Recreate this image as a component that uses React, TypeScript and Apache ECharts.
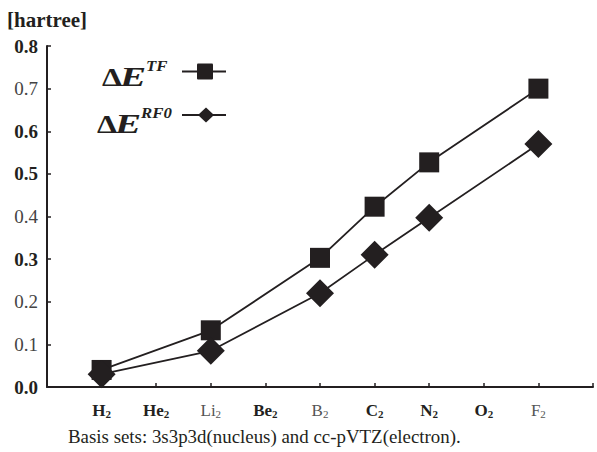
import React, { useEffect, useRef } from "react";
import * as echarts from "echarts";

const categories = ["H2", "He2", "Li2", "Be2", "B2", "C2", "N2", "O2", "F2"];
const categoryBold = [true, true, false, true, false, true, true, true, false];
const tfValues: (number | null)[] = [0.04, null, 0.133, null, 0.303, 0.423, 0.527, null, 0.7];
const rf0Values: (number | null)[] = [0.03, null, 0.085, null, 0.22, 0.31, 0.397, null, 0.57];
const yTickLabels = ["0.0", "0.1", "0.2", "0.3", "0.4", "0.5", "0.6", "0.7", "0.8"];
const yTickBold = [true, false, false, true, false, true, true, false, true];

const INK = "#231f20";
const SERIF = "Liberation Serif";

function toPoints(vals: (number | null)[]) {
  const out: [number, number][] = [];
  vals.forEach((v, i) => {
    if (v !== null) out.push([i + 1, v]);
  });
  return out;
}

function legendText(x: number, y: number, supX: number, supY: number, sup: string) {
  return [
    {
      type: "text",
      x,
      y,
      scaleX: 1.22,
      style: { text: "Δ", fontFamily: SERIF, fontSize: 26, fontWeight: "bold", fill: INK, verticalAlign: "middle" },
    },
    {
      type: "text",
      x: x + 18,
      y,
      scaleX: 1.45,
      style: {
        text: "E",
        fontFamily: SERIF,
        fontSize: 27,
        fontWeight: "bold",
        fontStyle: "italic",
        fill: INK,
        verticalAlign: "middle",
      },
    },
    {
      type: "text",
      x: supX,
      y: supY,
      scaleX: 1.2,
      style: {
        text: sup,
        fontFamily: SERIF,
        fontSize: 14,
        fontWeight: "bold",
        fontStyle: "italic",
        fill: INK,
        verticalAlign: "middle",
      },
    },
  ];
}

export default function App() {
  const ref = useRef<HTMLDivElement>(null);
  useEffect(() => {
    if (!ref.current) return;
    const chart = echarts.init(ref.current, null, { renderer: "svg" });
    chart.setOption({
      animation: false,
      backgroundColor: "#ffffff",
      textStyle: { fontFamily: SERIF },
      grid: { left: 47, right: 4, top: 46, bottom: 65 },
      xAxis: {
        type: "value",
        min: 0,
        max: 10,
        interval: 1,
        splitLine: { show: false },
        axisLine: { lineStyle: { color: INK, width: 2 } },
        axisTick: { inside: true, length: 4, lineStyle: { color: INK, width: 1.5 } },
        axisLabel: {
          margin: 12,
          fontFamily: SERIF,
          formatter: (v: number) => {
            const i = Math.round(v) - 1;
            if (i < 0 || i >= categories.length) return "";
            const name = categories[i];
            const base = name.slice(0, -1);
            const sub = name.slice(-1);
            return categoryBold[i] ? `{b|${base}}{bs|${sub}}` : `{r|${base}}{rs|${sub}}`;
          },
          rich: {
            b: { fontFamily: SERIF, fontSize: 17, fontWeight: "bold", color: INK, lineHeight: 20, verticalAlign: "bottom" },
            bs: { fontFamily: SERIF, fontSize: 11, fontWeight: "bold", color: INK, lineHeight: 10, verticalAlign: "bottom" },
            r: { fontFamily: SERIF, fontSize: 17, color: "#555", lineHeight: 20, verticalAlign: "bottom" },
            rs: { fontFamily: SERIF, fontSize: 11, color: "#555", lineHeight: 10, verticalAlign: "bottom" },
          },
        },
      },
      yAxis: {
        type: "value",
        min: 0,
        max: 0.8,
        interval: 0.1,
        splitLine: { show: false },
        axisLine: { show: true, lineStyle: { color: INK, width: 2 } },
        axisTick: { show: true, inside: true, length: 4, lineStyle: { color: INK, width: 1.5 } },
        axisLabel: {
          margin: 9,
          fontFamily: SERIF,
          formatter: (v: number) => {
            const i = Math.round(v * 10);
            const t = yTickLabels[i];
            return yTickBold[i] ? `{b|${t}}` : `{r|${t}}`;
          },
          rich: {
            b: { fontFamily: SERIF, fontSize: 19, fontWeight: "bold", color: INK },
            r: { fontFamily: SERIF, fontSize: 19, color: "#444" },
          },
        },
      },
      series: [
        {
          name: "TF",
          type: "line",
          data: toPoints(tfValues),
          symbol: "rect",
          symbolSize: 20,
          lineStyle: { color: INK, width: 1.8 },
          itemStyle: { color: INK },
          z: 3,
        },
        {
          name: "RF0",
          type: "line",
          data: toPoints(rf0Values),
          symbol: "diamond",
          symbolSize: 28,
          lineStyle: { color: INK, width: 1.8 },
          itemStyle: { color: INK },
          z: 4,
        },
      ],
      graphic: [
        {
          type: "text",
          x: 7,
          y: 10,
          scaleX: 1.05,
          style: { text: "[hartree]", fontFamily: SERIF, fontSize: 20, fontWeight: "bold", fill: INK },
        },
        ...legendText(102, 77, 146, 66, "TF"),
        ...legendText(97, 124, 141, 113, "RF0"),
        { type: "line", shape: { x1: 182, y1: 71.5, x2: 226, y2: 71.5 }, style: { stroke: INK, lineWidth: 1.8 } },
        { type: "rect", shape: { x: 197, y: 63.5, width: 16, height: 16, r: 1 }, style: { fill: INK } },
        { type: "line", shape: { x1: 182, y1: 115, x2: 226, y2: 115 }, style: { stroke: INK, lineWidth: 1.8 } },
        {
          type: "polygon",
          shape: { points: [[206, 107.5], [214, 115], [206, 122.5], [198, 115]] },
          style: { fill: INK },
        },
        {
          type: "text",
          x: 68,
          y: 437,
          scaleX: 1.05,
          style: {
            text: "Basis sets: 3s3p3d(nucleus) and cc-pVTZ(electron).",
            fontFamily: SERIF,
            fontSize: 18,
            fill: INK,
            verticalAlign: "middle",
          },
        },
      ],
    });
    return () => chart.dispose();
  }, []);
  return <div ref={ref} style={{ width: 597, height: 452, position: "absolute", left: 0, top: 0 }} />;
}
